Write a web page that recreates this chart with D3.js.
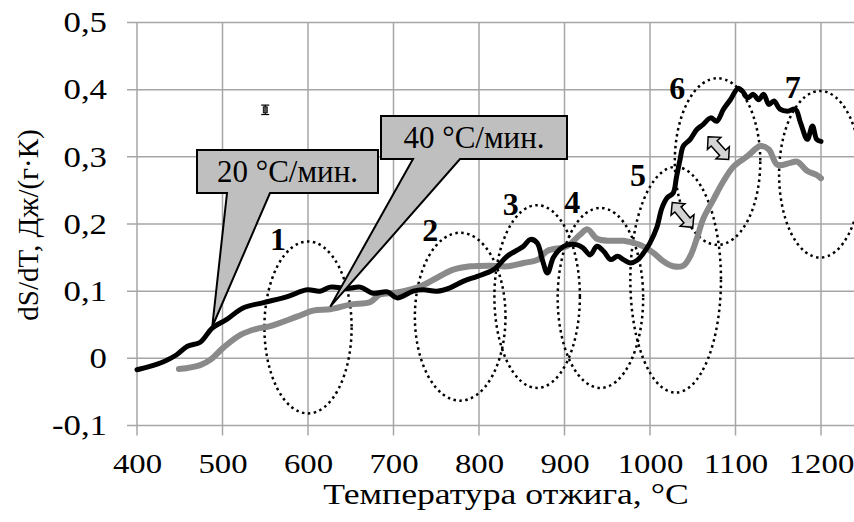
<!DOCTYPE html>
<html>
<head>
<meta charset="utf-8">
<script src="https://cdn.jsdelivr.net/npm/d3@7"></script>
<style>
  body { margin: 0; background: #fff; }
  text { font-family: "Liberation Serif", "Times New Roman", serif; }
</style>
</head>
<body>
<div id="chart"></div>
<script>
// axis ticks
const tempTicks = [400, 500, 600, 700, 800, 900, 1000, 1100, 1200];
const valueTicks = [-0.1, 0, 0.1, 0.2, 0.3, 0.4, 0.5];

// 20 °C/min curve (black)
const temp20 = [400, 415, 431, 446, 459, 474, 488, 505, 524, 548, 576, 599, 614, 626, 646, 661, 676, 693, 704, 723, 735, 751, 766, 782, 798, 817, 833, 852, 860, 868, 874, 880, 887, 895, 903, 915, 922, 930, 938, 946, 954, 962, 969, 977, 985, 992, 1000, 1008, 1014, 1020, 1027, 1031, 1035, 1039, 1047, 1055, 1062, 1071, 1078, 1086, 1094, 1103, 1108, 1114, 1121, 1127, 1133, 1139, 1145, 1152, 1161, 1170, 1176, 1184, 1190, 1195, 1200];
const dsdt20 = [-0.017, -0.012, -0.005, 0.005, 0.018, 0.024, 0.045, 0.058, 0.075, 0.083, 0.092, 0.102, 0.100, 0.106, 0.104, 0.106, 0.097, 0.099, 0.090, 0.100, 0.102, 0.100, 0.105, 0.115, 0.122, 0.132, 0.152, 0.167, 0.177, 0.172, 0.147, 0.127, 0.150, 0.163, 0.169, 0.169, 0.164, 0.154, 0.167, 0.159, 0.147, 0.152, 0.147, 0.142, 0.146, 0.156, 0.172, 0.195, 0.224, 0.239, 0.246, 0.270, 0.295, 0.316, 0.326, 0.341, 0.348, 0.358, 0.353, 0.371, 0.385, 0.402, 0.398, 0.388, 0.393, 0.385, 0.393, 0.378, 0.383, 0.371, 0.368, 0.371, 0.351, 0.326, 0.346, 0.326, 0.323];

// 40 °C/min curve (grey)
const temp40 = [449, 474, 486, 501, 521, 540, 556, 587, 606, 626, 649, 673, 684, 704, 731, 751, 770, 790, 813, 833, 852, 869, 880, 903, 918, 927, 938, 954, 969, 988, 1004, 1016, 1027, 1039, 1047, 1055, 1062, 1074, 1086, 1098, 1114, 1129, 1139, 1149, 1164, 1172, 1184, 1195, 1200];
const dsdt40 = [-0.016, -0.010, -0.002, 0.016, 0.035, 0.044, 0.048, 0.062, 0.071, 0.073, 0.080, 0.084, 0.095, 0.098, 0.107, 0.120, 0.132, 0.137, 0.138, 0.137, 0.142, 0.147, 0.160, 0.167, 0.184, 0.192, 0.178, 0.175, 0.175, 0.169, 0.157, 0.144, 0.137, 0.138, 0.152, 0.179, 0.207, 0.236, 0.264, 0.286, 0.301, 0.316, 0.311, 0.288, 0.291, 0.293, 0.279, 0.273, 0.268];

// dotted zones 1..7: centre (T, value) and radii
const zoneNames = ["1", "2", "3", "4", "5", "6", "7"];
const zoneT = [600, 778, 868, 942, 1030, 1079, 1199];
const zoneV = [0.046, 0.062, 0.092, 0.090, 0.117, 0.293, 0.274];
const zoneRT = [51, 53, 50, 50, 53, 50, 48];
const zoneRV = [0.128, 0.125, 0.136, 0.134, 0.168, 0.124, 0.124];
const zoneLabelT = [565, 743, 837, 909, 986, 1032, 1167];
const zoneLabelV = [0.162, 0.175, 0.214, 0.217, 0.256, 0.386, 0.388];

// double arrows between the curves
const arrowFromT = [1026, 1068];
const arrowFromV = [0.232, 0.330];
const arrowToT = [1050, 1092];
const arrowToV = [0.195, 0.296];

// error bar
const errT = 550, errV = 0.370, errD = 0.007;

// callouts
const calloutText = ["20 °C/мин.", "40 °C/мин."];
const calloutTipT = [488, 626];
const calloutTipV = [0.047, 0.077];

const width = 854, height = 522;
const svg = d3.select("#chart").append("svg")
    .attr("width", width)
    .attr("height", height);

const x = d3.scaleLinear().domain([400, 1200]).range([137, 821]);
const y = d3.scaleLinear().domain([-0.1, 0.5]).range([425.5, 22.5]);

const gridColor = "#a6a6a6";

// grid
svg.append("g").selectAll("line")
    .data(tempTicks)
    .enter().append("line")
    .attr("x1", d => x(d)).attr("x2", d => x(d))
    .attr("y1", y(0.5)).attr("y2", y(-0.1) + 10)
    .attr("stroke", gridColor).attr("stroke-width", 1.5);

svg.append("g").selectAll("line")
    .data(valueTicks)
    .enter().append("line")
    .attr("x1", x(400) - 10).attr("x2", width)
    .attr("y1", d => y(d)).attr("y2", d => y(d))
    .attr("stroke", gridColor).attr("stroke-width", 1.5);

// axis labels
const fmt = v => v === 0 ? "0" : v.toFixed(1).replace(".", ",");
const yAxis = svg.append("g")
    .attr("transform", `translate(${x(400)},0)`)
    .call(d3.axisLeft(y).tickValues(valueTicks).tickFormat(fmt).tickSize(0));
yAxis.select(".domain").remove();
yAxis.selectAll("text")
    .attr("x", null)
    .attr("transform", "translate(-30,0) scale(1.2,1)")
    .attr("font-size", 29).attr("fill", "#000")
    .attr("font-family", "Liberation Serif");

const xAxis = svg.append("g")
    .attr("transform", `translate(0,${y(-0.1)})`)
    .call(d3.axisBottom(x).tickValues(tempTicks).tickFormat(d3.format("d")).tickSize(0));
xAxis.select(".domain").remove();
xAxis.selectAll("text")
    .attr("y", null).attr("dy", null)
    .attr("transform", "translate(0,47) scale(1.17,1)")
    .attr("font-size", 28).attr("fill", "#000")
    .attr("font-family", "Liberation Serif");

svg.append("text")
    .attr("transform", "translate(506,504) scale(1.23,1)")
    .attr("text-anchor", "middle")
    .attr("font-size", 29)
    .text("Температура отжига, °C");

svg.append("text")
    .attr("transform", "translate(38,225) rotate(-90)")
    .attr("text-anchor", "middle")
    .attr("font-size", 29)
    .text("dS/dT, Дж/(г·К)");

// zones
svg.append("g").selectAll("ellipse")
    .data(zoneNames)
    .enter().append("ellipse")
    .attr("cx", (d, i) => x(zoneT[i]))
    .attr("cy", (d, i) => y(zoneV[i]))
    .attr("rx", (d, i) => x(zoneT[i] + zoneRT[i]) - x(zoneT[i]))
    .attr("ry", (d, i) => y(zoneV[i]) - y(zoneV[i] + zoneRV[i]))
    .attr("fill", "none")
    .attr("stroke", "#000")
    .attr("stroke-width", 2.5)
    .attr("stroke-dasharray", "2.5 3.5");

// curves
const line = d3.line()
    .curve(d3.curveCatmullRom.alpha(0.5))
    .x(d => x(d[0]))
    .y(d => y(d[1]));

svg.append("path")
    .datum(temp40.map((t, i) => [t, dsdt40[i]]))
    .attr("d", line)
    .attr("fill", "none")
    .attr("stroke", "#8a8a8a")
    .attr("stroke-width", 6)
    .attr("stroke-linejoin", "round")
    .attr("stroke-linecap", "round");

svg.append("path")
    .datum(temp20.map((t, i) => [t, dsdt20[i]]))
    .attr("d", line)
    .attr("fill", "none")
    .attr("stroke", "#000")
    .attr("stroke-width", 5)
    .attr("stroke-linejoin", "round")
    .attr("stroke-linecap", "round");

// zone numbers
svg.append("g").selectAll("text")
    .data(zoneNames)
    .enter().append("text")
    .attr("x", (d, i) => x(zoneLabelT[i]))
    .attr("y", (d, i) => y(zoneLabelV[i]))
    .attr("text-anchor", "middle")
    .attr("font-size", 32)
    .attr("font-weight", "bold")
    .text(d => d);

// double arrows
function doubleArrow(x1, y1, x2, y2) {
    const len = Math.hypot(x2 - x1, y2 - y1);
    const hw = 4, hh = 9, hl = 9;
    const pts = [[0, 0], [hl, -hh], [hl, -hw], [len - hl, -hw], [len - hl, -hh], [len, 0],
                 [len - hl, hh], [len - hl, hw], [hl, hw], [hl, hh]];
    const a = Math.atan2(y2 - y1, x2 - x1);
    return "M" + pts.map(p => [x1 + p[0] * Math.cos(a) - p[1] * Math.sin(a),
                               y1 + p[0] * Math.sin(a) + p[1] * Math.cos(a)].join(",")).join("L") + "Z";
}
svg.append("g").selectAll("path")
    .data(arrowFromT)
    .enter().append("path")
    .attr("d", (d, i) => doubleArrow(x(arrowFromT[i]), y(arrowFromV[i]), x(arrowToT[i]), y(arrowToV[i])))
    .attr("fill", "#d4d4d4")
    .attr("stroke", "#000")
    .attr("stroke-width", 1.5)
    .attr("stroke-linejoin", "miter");

// error bar
const eb = svg.append("g").attr("stroke", "#000").attr("stroke-width", 1.2);
eb.append("line").attr("x1", x(errT)).attr("x2", x(errT)).attr("y1", y(errV + errD)).attr("y2", y(errV - errD));
eb.append("line").attr("x1", x(errT) - 4).attr("x2", x(errT) + 4).attr("y1", y(errV + errD)).attr("y2", y(errV + errD));
eb.append("line").attr("x1", x(errT) - 4).attr("x2", x(errT) + 4).attr("y1", y(errV - errD)).attr("y2", y(errV - errD));
eb.append("rect").attr("x", x(errT) - 2).attr("y", y(errV) - 3).attr("width", 4).attr("height", 6)
    .attr("fill", "#555").attr("stroke-width", 0.8);

// callouts
const boxes = [
    { x0: 197, y0: 150, x1: 378, y1: 193, b0: 227, b1: 270 },
    { x0: 381, y0: 116, x1: 567, y1: 159, b0: 413, b1: 460 }
];
boxes.forEach((b, i) => {
    const tx = x(calloutTipT[i]), ty = y(calloutTipV[i]);
    const p = `M${b.x0},${b.y0}L${b.x1},${b.y0}L${b.x1},${b.y1}L${b.b1},${b.y1}L${tx},${ty}L${b.b0},${b.y1}L${b.x0},${b.y1}Z`;
    svg.append("path")
        .attr("d", p)
        .attr("fill", "#bfbfbf")
        .attr("stroke", "#000")
        .attr("stroke-width", 2)
        .attr("stroke-linejoin", "miter");
    svg.append("text")
        .attr("x", (b.x0 + b.x1) / 2)
        .attr("y", b.y1 - 11)
        .attr("text-anchor", "middle")
        .attr("font-size", 31)
        .text(calloutText[i]);
});
</script>
</body>
</html>
